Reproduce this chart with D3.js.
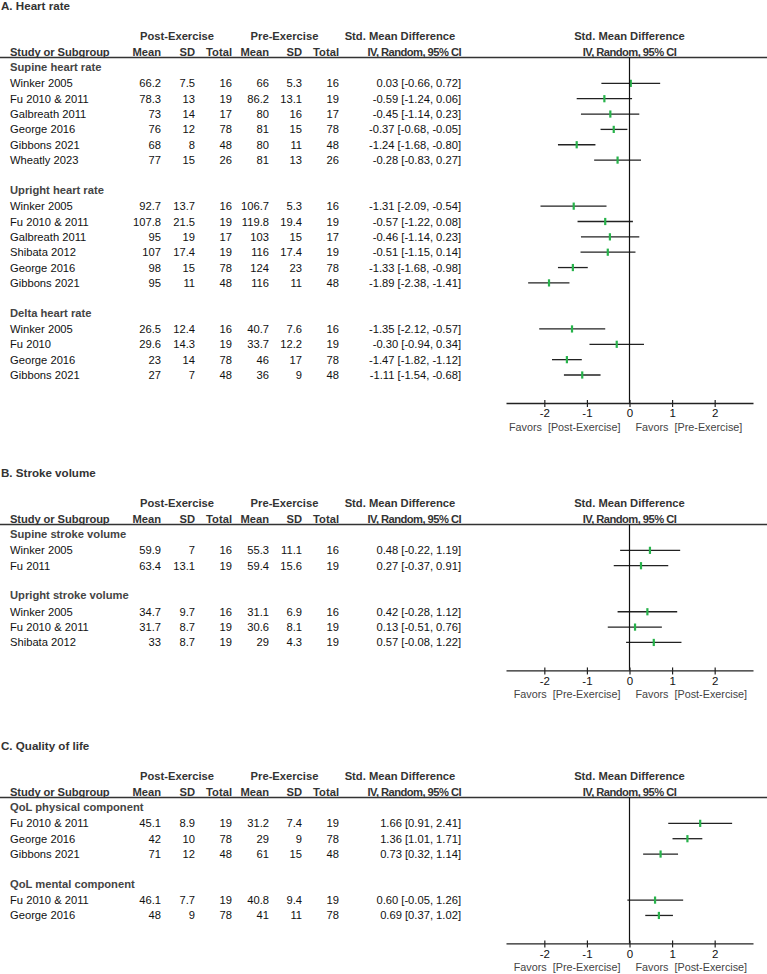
<!DOCTYPE html>
<html>
<head>
<meta charset="utf-8">
<script src="https://cdn.jsdelivr.net/npm/d3@7"></script>
<style>
  html, body { margin: 0; padding: 0; background: #fff; }
  svg { display: block; font-family: "Liberation Sans", Arial, sans-serif; }
  .hdr { font-weight: bold; fill: #333; }
  .sub { font-weight: bold; fill: #444; }
  .val { fill: #111; }
  .fav { fill: #444; }
</style>
</head>
<body>
<svg id="chart" width="767" height="974"></svg>
<script>
// rows: study, post mean, post SD, post total, pre mean, pre SD, pre total, SMD, CI low, CI high
var hrSupine = [
  ["Winker 2005", 66.2, 7.5, 16, 66, 5.3, 16, 0.03, -0.66, 0.72],
  ["Fu 2010 & 2011", 78.3, 13, 19, 86.2, 13.1, 19, -0.59, -1.24, 0.06],
  ["Galbreath 2011", 73, 14, 17, 80, 16, 17, -0.45, -1.14, 0.23],
  ["George 2016", 76, 12, 78, 81, 15, 78, -0.37, -0.68, -0.05],
  ["Gibbons 2021", 68, 8, 48, 80, 11, 48, -1.24, -1.68, -0.80],
  ["Wheatly 2023", 77, 15, 26, 81, 13, 26, -0.28, -0.83, 0.27]
];
var hrUpright = [
  ["Winker 2005", 92.7, 13.7, 16, 106.7, 5.3, 16, -1.31, -2.09, -0.54],
  ["Fu 2010 & 2011", 107.8, 21.5, 19, 119.8, 19.4, 19, -0.57, -1.22, 0.08],
  ["Galbreath 2011", 95, 19, 17, 103, 15, 17, -0.46, -1.14, 0.23],
  ["Shibata 2012", 107, 17.4, 19, 116, 17.4, 19, -0.51, -1.15, 0.14],
  ["George 2016", 98, 15, 78, 124, 23, 78, -1.33, -1.68, -0.98],
  ["Gibbons 2021", 95, 11, 48, 116, 11, 48, -1.89, -2.38, -1.41]
];
var hrDelta = [
  ["Winker 2005", 26.5, 12.4, 16, 40.7, 7.6, 16, -1.35, -2.12, -0.57],
  ["Fu 2010", 29.6, 14.3, 19, 33.7, 12.2, 19, -0.30, -0.94, 0.34],
  ["George 2016", 23, 14, 78, 46, 17, 78, -1.47, -1.82, -1.12],
  ["Gibbons 2021", 27, 7, 48, 36, 9, 48, -1.11, -1.54, -0.68]
];
var svSupine = [
  ["Winker 2005", 59.9, 7, 16, 55.3, 11.1, 16, 0.48, -0.22, 1.19],
  ["Fu 2011", 63.4, 13.1, 19, 59.4, 15.6, 19, 0.27, -0.37, 0.91]
];
var svUpright = [
  ["Winker 2005", 34.7, 9.7, 16, 31.1, 6.9, 16, 0.42, -0.28, 1.12],
  ["Fu 2010 & 2011", 31.7, 8.7, 19, 30.6, 8.1, 19, 0.13, -0.51, 0.76],
  ["Shibata 2012", 33, 8.7, 19, 29, 4.3, 19, 0.57, -0.08, 1.22]
];
var qolPhysical = [
  ["Fu 2010 & 2011", 45.1, 8.9, 19, 31.2, 7.4, 19, 1.66, 0.91, 2.41],
  ["George 2016", 42, 10, 78, 29, 9, 78, 1.36, 1.01, 1.71],
  ["Gibbons 2021", 71, 12, 48, 61, 15, 48, 0.73, 0.32, 1.14]
];
var qolMental = [
  ["Fu 2010 & 2011", 46.1, 7.7, 19, 40.8, 9.4, 19, 0.60, -0.05, 1.26],
  ["George 2016", 48, 9, 78, 41, 11, 78, 0.69, 0.37, 1.02]
];

var panelTitles = ["A. Heart rate", "B. Stroke volume", "C. Quality of life"];
var subgroupNames = [
  ["Supine heart rate", "Upright heart rate", "Delta heart rate"],
  ["Supine stroke volume", "Upright stroke volume"],
  ["QoL physical component", "QoL mental component"]
];
var subgroupRows = [
  [hrSupine, hrUpright, hrDelta],
  [svSupine, svUpright],
  [qolPhysical, qolMental]
];
var favorsLeft = ["Favors\u00a0 [Post-Exercise]", "Favors\u00a0 [Pre-Exercise]", "Favors\u00a0 [Pre-Exercise]"];
var favorsRight = ["Favors\u00a0 [Pre-Exercise]", "Favors\u00a0 [Post-Exercise]", "Favors\u00a0 [Post-Exercise]"];
var tickValues = [-2, -1, 0, 1, 2];

// layout
var panelTop = [6, 473, 746];
var rowStep = 15.35;
var fs = 11.2;
var colX = [161, 195, 232, 269, 302, 339]; // right edges of numeric columns
var ciX = 461;

var svg = d3.select('#chart');
var x = d3.scaleLinear().domain([-2.9, 2.9]).range([506, 753]);

function txt(g, s, xx, yy, anchor, cls) {
  return g.append('text')
    .attr('x', xx).attr('y', yy).attr('dy', '0.36em')
    .attr('text-anchor', anchor || 'start')
    .attr('class', cls || 'val')
    .style('font-size', fs + 'px')
    .text(s);
}

panelTitles.forEach(function(title, p) {
  var top = panelTop[p];
  var g = svg.append('g').attr('class', 'panel');

  txt(g, title, 1, top, 'start', 'hdr').style('font-size', '11.6px');

  // header
  var h1 = top + 30, h2 = top + 46, rule = top + 51.5;
  txt(g, 'Post-Exercise', 177, h1, 'middle', 'hdr');
  txt(g, 'Pre-Exercise', 284.5, h1, 'middle', 'hdr');
  txt(g, 'Std. Mean Difference', 400, h1, 'middle', 'hdr');
  txt(g, 'Std. Mean Difference', x(0), h1, 'middle', 'hdr');
  txt(g, 'Study or Subgroup', 10, h2, 'start', 'hdr').attr('letter-spacing', -0.1);
  ['Mean', 'SD', 'Total', 'Mean', 'SD', 'Total'].forEach(function(h, i) {
    txt(g, h, colX[i], h2, 'end', 'hdr');
  });
  txt(g, 'IV, Random, 95% CI', ciX, h2, 'end', 'hdr').attr('letter-spacing', -0.55);
  txt(g, 'IV, Random, 95% CI', x(0), h2, 'middle', 'hdr').attr('letter-spacing', -0.55);

  g.append('line')
    .attr('x1', 0).attr('x2', 767)
    .attr('y1', rule).attr('y2', rule)
    .attr('stroke', '#333').attr('stroke-width', 1.4);

  // rows
  var y0 = top + 61, idx = 0, lastY = y0;
  subgroupRows[p].forEach(function(rows, s) {
    if (s > 0) idx++; // blank spacer row
    txt(g, subgroupNames[p][s], 10, y0 + idx * rowStep, 'start', 'sub');
    idx++;
    rows.forEach(function(r) {
      var yy = y0 + idx * rowStep + 1;
      txt(g, r[0], 10, yy);
      for (var c = 1; c <= 6; c++) txt(g, String(r[c]), colX[c - 1], yy, 'end');
      txt(g, r[7].toFixed(2) + ' [' + r[8].toFixed(2) + ', ' + r[9].toFixed(2) + ']', ciX, yy, 'end');

      g.append('line')
        .attr('x1', x(r[8])).attr('x2', x(r[9]))
        .attr('y1', yy).attr('y2', yy)
        .attr('stroke', '#222').attr('stroke-width', 1.3);
      g.append('rect')
        .attr('x', x(r[7]) - 1.1).attr('y', yy - 3.6)
        .attr('width', 2.2).attr('height', 7.2)
        .attr('fill', '#27b34b');
      lastY = yy;
      idx++;
    });
  });

  var axisY = lastY + 28;

  // zero line
  g.append('line')
    .attr('x1', x(0)).attr('x2', x(0))
    .attr('y1', rule).attr('y2', axisY)
    .attr('stroke', '#111').attr('stroke-width', 1.2);

  // axis
  var axis = d3.axisBottom(x).tickValues(tickValues).tickSizeOuter(0).tickSizeInner(4).tickPadding(2)
    .tickFormat(function(d) { return String(d); });
  var ag = g.append('g').attr('transform', 'translate(0,' + axisY + ')').call(axis);
  ag.select('.domain').attr('stroke', '#222').attr('stroke-width', 1.3);
  ag.selectAll('.tick line').attr('y1', -3).attr('stroke', '#222').attr('stroke-width', 1.2);
  ag.selectAll('.tick text')
    .attr('font-family', '"Liberation Sans", Arial, sans-serif')
    .style('font-size', '11.5px').attr('fill', '#111');

  var favY = axisY + 24;
  txt(g, favorsLeft[p], x(0) - 9, favY, 'end', 'fav').style('font-size', '10.8px');
  txt(g, favorsRight[p], x(0) + 6, favY, 'start', 'fav').style('font-size', '10.8px');
});
</script>
</body>
</html>
